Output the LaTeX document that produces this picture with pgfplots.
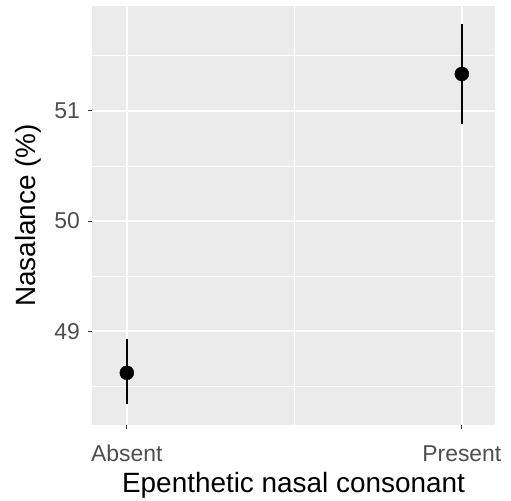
\documentclass[border=0pt]{standalone}
\usepackage{pgfplots}
\pgfplotsset{compat=1.18}
\usepackage{fontspec}
\setmainfont{Liberation Sans}
\definecolor{panelbg}{HTML}{EBEBEB}
\definecolor{ticktxt}{HTML}{4D4D4D}
\definecolor{tickcol}{HTML}{333333}

\begin{document}
\begin{tikzpicture}
\begin{axis}[
    scale only axis,
    width=403bp, height=419.3bp,
    xmin=0.896, xmax=2.099,
    ymin=48.148, ymax=51.955,
    axis background/.style={fill=panelbg},
    axis line style={draw=none},
    xtick={1,2}, xticklabels={Absent,Present},
    ytick={49,50,51},
    minor xtick={1.5},
    minor ytick={48.5,49.5,50.5,51.5},
    xtick pos=bottom, ytick pos=left,
    grid=both,
    major grid style={white, line width=1.4bp},
    minor grid style={white, line width=0.7bp},
    tick align=outside,
    major tick length=4bp,
    minor tick length=0pt,
    tick style={tickcol, line width=1bp},
    /pgf/number format/assume math mode=true,
    ticklabel style={font=\fontsize{23}{23}\selectfont, text=ticktxt},
    xticklabel style={anchor=base, inner sep=0pt, yshift=-32bp},
    yticklabel style={anchor=east, inner sep=0pt, xshift=-8bp},
    xlabel={Epenthetic nasal consonant},
    ylabel={Nasalance (\%)},
    label style={font=\fontsize{28}{28}\selectfont},
    xlabel style={at={(axis description cs:0.5,-0.16)}, anchor=base},
    ylabel style={at={(axis description cs:-0.139,0.5)}, anchor=base, rotate=0},
    clip=false,
]
\addplot[black, only marks, mark=*, mark size=7bp,
    error bars/.cd, y dir=both, y explicit, error mark=none,
    error bar style={line width=1.6bp}]
coordinates {
    (1,48.622) += (0,0.305) -= (0,0.287)
    (2,51.335) += (0,0.455) -= (0,0.453)
};
\end{axis}
\pgfresetboundingbox
\path[use as bounding box] (-92bp,-76bp) rectangle (419bp,425bp);
\end{tikzpicture}
\end{document}
